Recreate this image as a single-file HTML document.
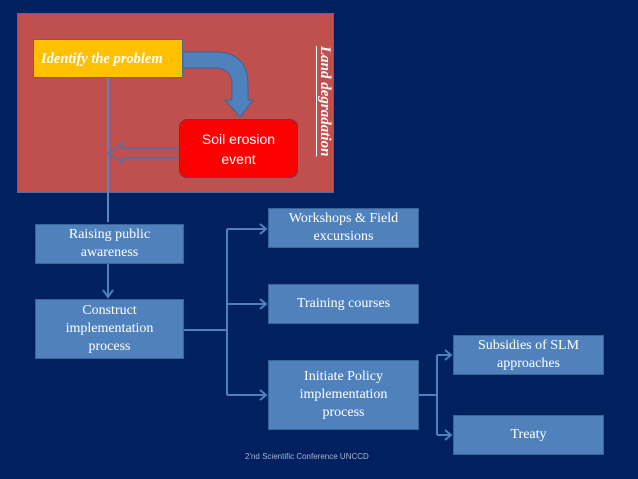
<!DOCTYPE html>
<html><head><style>
body{margin:0;width:638px;height:479px;background:#002060;position:relative;overflow:hidden;font-family:"Liberation Serif",serif;}
.b{position:absolute;background:#4f81bd;border:1px solid #3b6496;color:#fff;font-size:14px;display:flex;align-items:center;justify-content:center;text-align:center;line-height:18px;box-sizing:border-box;}
</style></head><body>
<div style="position:absolute;left:17px;top:13px;width:317px;height:180px;background:#c0504d;border:1px solid #4a6aa0;box-sizing:border-box"></div>
<svg width="638" height="479" style="position:absolute;left:0;top:0">
<path d="M183 52 H215 Q248 52 248 85 V100 H253 L240 117 L225 100 H232 V85 Q232 68 215 68 H183 Z" fill="#4f81bd" stroke="#3b6496"/>
<line x1="108" y1="78" x2="108" y2="222" stroke="#5a86c0" stroke-width="2"/>
<path d="M180 148 H122 V143 L108 153 L122 163 V158 H180 Z" fill="#c0504d" stroke="#4f6fa8" stroke-width="1.5"/>
<line x1="108" y1="264" x2="108" y2="296" stroke="#4f81bd" stroke-width="2"/>
<path d="M103 290 L108 297 L113 290" fill="none" stroke="#4f81bd" stroke-width="2"/>
<g stroke="#4f81bd" stroke-width="2" fill="none">
<path d="M184 330 H227 M227 229 V395 M227 229 H266 M227 304 H266 M227 395 H266"/>
<path d="M260 224 L266 229 L260 234 M260 299 L266 304 L260 309 M260 390 L266 395 L260 400"/>
<path d="M419 395 H437 M437 355 V435 M437 355 H451 M437 435 H451"/>
<path d="M445 350 L451 355 L445 360 M445 430 L451 435 L445 440"/>
</g>
</svg>
<div class="b" style="left:33px;top:39px;width:150px;height:39px;background:#ffc000;border-color:#4a6aa0;font-style:italic;font-weight:bold;font-size:14.5px;justify-content:flex-start;padding-left:7px">Identify the problem</div>
<div class="b" style="left:179px;top:119px;width:119px;height:59px;background:#ff0000;border:1px solid #7a3040;border-radius:8px;font-family:'Liberation Sans',sans-serif;font-size:14px;line-height:20px">Soil erosion<br>event</div>
<div style="position:absolute;left:311px;top:40px;width:22px;height:122px;color:#fff;font-style:italic;font-weight:bold;font-size:15px;writing-mode:vertical-rl;text-decoration:underline;text-align:center">Land degradation</div>
<div class="b" style="left:35px;top:224px;width:149px;height:40px">Raising public<br>awareness</div>
<div class="b" style="left:35px;top:299px;width:149px;height:60px">Construct<br>implementation<br>process</div>
<div class="b" style="left:268px;top:208px;width:151px;height:40px;align-items:flex-start;padding-top:1px">Workshops &amp; Field<br>excursions</div>
<div class="b" style="left:268px;top:284px;width:151px;height:40px">Training courses</div>
<div class="b" style="left:268px;top:360px;width:151px;height:70px">Initiate Policy<br>implementation<br>process</div>
<div class="b" style="left:453px;top:335px;width:151px;height:40px;align-items:flex-start;padding-top:1px">Subsidies of SLM<br>approaches</div>
<div class="b" style="left:453px;top:415px;width:151px;height:40px">Treaty</div>
<div style="position:absolute;left:245px;top:452px;color:#a8b4d0;font-family:'Liberation Sans',sans-serif;font-size:8px">2'nd Scientific Conference UNCCD</div>
</body></html>
